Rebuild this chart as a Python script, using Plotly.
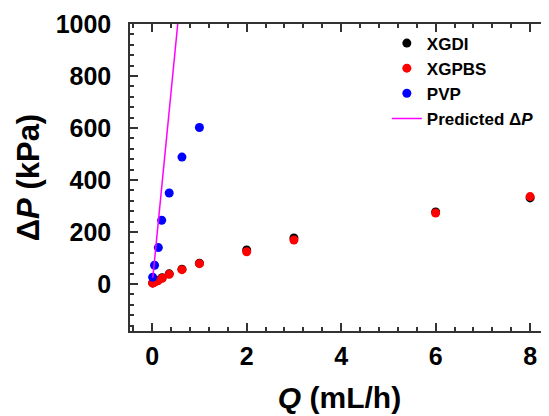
import plotly.graph_objects as go

# Data
q_xgdi = [0.01, 0.05, 0.12, 0.21, 0.36, 0.63, 1.0, 2.0, 3.0, 6.0, 8.0]
dp_xgdi = [4, 8, 14, 24, 39, 57, 80, 131, 177, 277, 331]

q_xgpbs = [0.01, 0.05, 0.12, 0.21, 0.36, 0.63, 1.0, 2.0, 3.0, 6.0, 8.0]
dp_xgpbs = [3, 7, 12, 22, 37, 55, 78, 124, 169, 273, 336]

q_pvp = [0.01, 0.05, 0.13, 0.2, 0.36, 0.63, 1.0]
dp_pvp = [26, 72, 140, 245, 350, 488, 602]

q_pred = [0.013, 0.1, 0.3, 0.6]
dp_pred = [24, 185, 555, 1110]

x_ticks = [0, 2, 4, 6, 8]
y_ticks = [0, 200, 400, 600, 800, 1000]

FONT = "Liberation Sans, Arial, sans-serif"
AXC = "#333333"

fig = go.Figure()
fig.add_trace(go.Scatter(x=q_xgdi, y=dp_xgdi, mode="markers", name="XGDI",
                         marker=dict(color="#000000", size=9)))
fig.add_trace(go.Scatter(x=q_xgpbs, y=dp_xgpbs, mode="markers", name="XGPBS",
                         marker=dict(color="#ff0000", size=9)))
fig.add_trace(go.Scatter(x=q_pvp, y=dp_pvp, mode="markers", name="PVP",
                         marker=dict(color="#0000ff", size=9)))
fig.add_trace(go.Scatter(x=q_pred, y=dp_pred, mode="lines", name="Predicted Δ<i>P</i>",
                         line=dict(color="#ff00ff", width=1.5)))

axis_common = dict(
    showline=True, linecolor=AXC, linewidth=1.5, mirror="ticks",
    ticks="inside", ticklen=8, tickwidth=1.5, tickcolor=AXC,
    showgrid=False, zeroline=False, automargin=False,
    tickfont=dict(family=FONT, size=25, color="#000000", weight="bold"),
)

fig.update_xaxes(
    range=[-0.47, 8.4], tickvals=x_ticks, ticktext=[str(v) for v in x_ticks],
    minor=dict(dtick=0.4, tick0=0, ticks="inside", ticklen=4, tickwidth=1.5, tickcolor=AXC),
    ticklabelstandoff=2,
    title=dict(text="<i>Q</i> (mL/h)", font=dict(family=FONT, size=30, color="#000000", weight="bold"),
               standoff=18),
    **axis_common,
)
fig.update_yaxes(
    range=[-181, 1000], tickvals=y_ticks, ticktext=[str(v) for v in y_ticks],
    minor=dict(dtick=40, tick0=0, ticks="inside", ticklen=4, tickwidth=1.5, tickcolor=AXC),
    ticklabelstandoff=12,
    title=dict(text="Δ<i>P</i> (kPa)", font=dict(family=FONT, size=31, color="#000000", weight="bold"),
               standoff=7),
    **axis_common,
)

# The page body has an 8px margin, so the figure is drawn at (8, 8) in the window.
fig.update_layout(
    width=541, height=408,
    margin=dict(l=122, r=0, t=16, b=85),
    paper_bgcolor="white", plot_bgcolor="white",
    showlegend=True,
    legend=dict(x=0.613, y=0.995, xanchor="left", yanchor="top",
                bgcolor="rgba(0,0,0,0)",
                font=dict(family=FONT, size=17, color="#000000", weight="bold"),
                tracegroupgap=0),
)

fig.write_html("out.html")
